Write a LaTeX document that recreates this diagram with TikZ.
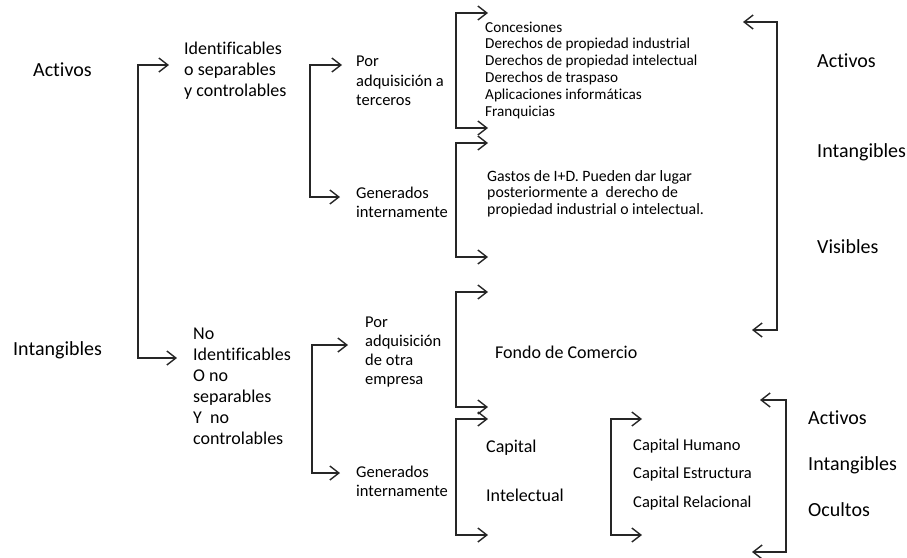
\documentclass[tikz,border=0pt]{standalone}
\usepackage{fontspec}
\setmainfont[Ligatures=CommonOff]{Carlito}
\usetikzlibrary{arrows.meta}

\tikzset{
  txt/.style={anchor=west, inner sep=0pt, align=left, text=black},
  big/.style={txt, font=\fontsize{20}{24}\selectfont},
  med/.style={txt, font=\fontsize{18}{21}\selectfont},
  sub/.style={txt, font=\fontsize{16.5}{19.3}\selectfont},
  lst/.style={txt, font=\fontsize{15.2}{16.8}\selectfont},
  gst/.style={txt, font=\fontsize{15.8}{16.6}\selectfont},
  captxt/.style={txt, font=\fontsize{16.5}{19}\selectfont},
  bracket/.style={line width=1.4pt, black!85,
    {Straight Barb[length=9pt,width=14pt]}-{Straight Barb[length=9pt,width=14pt]}}
}

\begin{document}
\begin{tikzpicture}[x=1pt, y=-1pt]
  \useasboundingbox (0,0) rectangle (907,557);

  % ---- left column labels
  \node[big] (activos)     at (33,70)  {Activos};
  \node[big] (intangibles) at (13,350) {Intangibles};

  % ---- first split
  \node[med] (ident)   at (184,71)  {Identificables\\o separables\\y controlables};
  \node[med] (noident) at (193,386) {No\\Identificables\\O no\\separables\\Y\ \ no\\controlables};

  % ---- second split
  \node[sub] (porter) at (356,81)  {Por\\adquisición a\\terceros};
  \node[sub] (genA)   at (356,202) {Generados\\internamente};
  \node[sub] (porotr) at (365,352) {Por\\adquisición\\de otra\\empresa};
  \node[sub] (genB)   at (356,481) {Generados\\internamente};

  % ---- detail texts
  \node[lst] (lista) at (485,70) {Concesiones\\Derechos de propiedad industrial\\Derechos de propiedad intelectual\\Derechos de traspaso\\Aplicaciones informáticas\\Franquicias};
  \node[gst] (gastos) at (487,193.5) {Gastos de I+D. Pueden dar lugar\\posteriormente a\ \ derecho de\\propiedad industrial o intelectual.};
  \node[med] (fondo) at (495,352) {Fondo de Comercio};
  \node[med] (capA)  at (486,448) {Capital};
  \node[med] (capB)  at (486,495) {Intelectual};
  \node[captxt] (chum)  at (633,446) {Capital Humano};
  \node[captxt] (cest)  at (633,474) {Capital Estructura};
  \node[captxt] (crel)  at (633,503) {Capital Relacional};

  % ---- right-hand summary labels
  \node[big] (rvA) at (817,61)  {Activos};
  \node[big] (rvB) at (817,152) {Intangibles};
  \node[big] (rvC) at (817,247) {Visibles};
  \node[big] (roA) at (808,418) {Activos};
  \node[big] (roB) at (808,465) {Intangibles};
  \node[big] (roC) at (808,510) {Ocultos};

  % ---- bracket end points
  \coordinate (b1a) at (169,65);  \coordinate (b1c) at (138,358); \coordinate (b1b) at (177,358);
  \coordinate (b2a) at (342,65);  \coordinate (b2c) at (310,197); \coordinate (b2b) at (340,197);
  \coordinate (b3a) at (488,13);  \coordinate (b3c) at (456,128); \coordinate (b3b) at (488,128);
  \coordinate (b4a) at (488,143); \coordinate (b4c) at (456,257); \coordinate (b4b) at (488,257);
  \coordinate (b5a) at (348,345); \coordinate (b5c) at (312,473); \coordinate (b5b) at (340,473);
  \coordinate (b6a) at (488,292); \coordinate (b6c) at (456,407); \coordinate (b6b) at (488,407);
  \coordinate (b7a) at (488,419); \coordinate (b7c) at (456,535); \coordinate (b7b) at (488,535);
  \coordinate (b8a) at (642,419); \coordinate (b8c) at (611,535); \coordinate (b8b) at (642,535);
  \coordinate (r1a) at (743,22);  \coordinate (r1c) at (777,330); \coordinate (r1b) at (752,330);
  \coordinate (r2a) at (760,400); \coordinate (r2c) at (786,552); \coordinate (r2b) at (752,552);

  % ---- brackets
  \foreach \b in {b1,b2,b3,b4,b5,b6,b7,b8,r1,r2}
    \draw[bracket] (\b a) -| (\b c) -- (\b b);
\end{tikzpicture}
\end{document}
